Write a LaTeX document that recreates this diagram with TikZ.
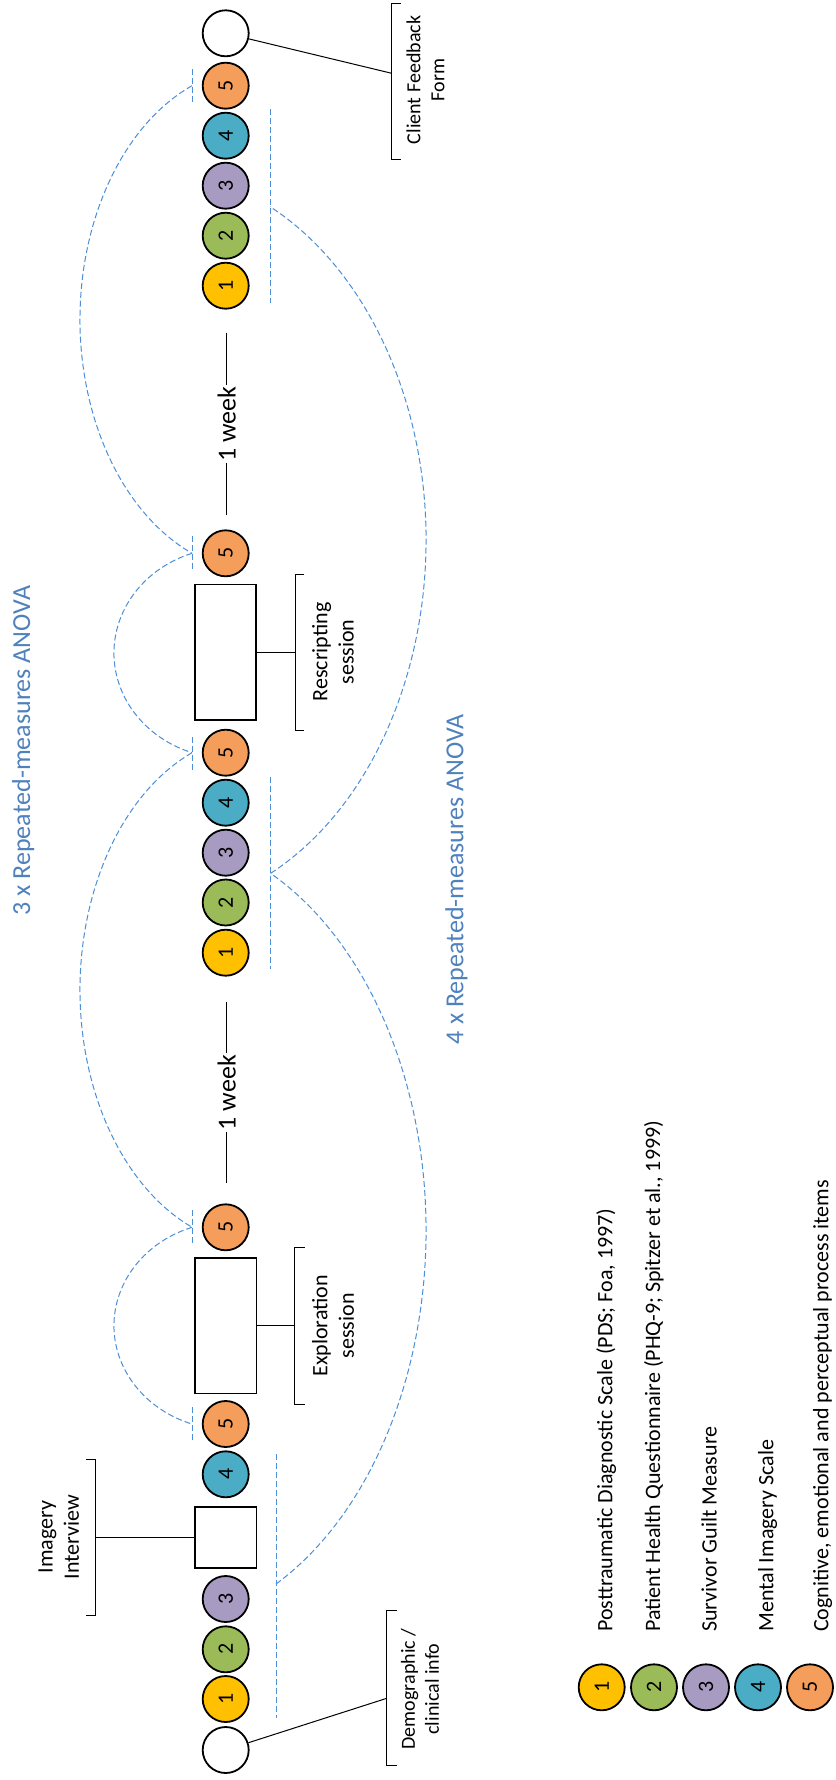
\documentclass[tikz,border=0pt]{standalone}
\usepackage{fontspec}
\setmainfont{Carlito}
\definecolor{mone}{HTML}{FFC000}
\definecolor{mtwo}{HTML}{9BBB59}
\definecolor{mthree}{HTML}{A89BC1}
\definecolor{mfour}{HTML}{4BACC6}
\definecolor{mfive}{HTML}{F59D5A}
\definecolor{anovablue}{HTML}{4F81BD}
\definecolor{linkblue}{HTML}{4A8FD8}
\begin{document}
\begin{tikzpicture}[x=0.75pt,y=-0.75pt,
  meas/.style={circle,draw=black,line width=1.35pt,minimum size=34.5pt,inner sep=0pt,
    font=\fontsize{16.5}{19.8}\selectfont,rotate=90},
  sessbox/.style={rectangle,draw=black,line width=1.35pt,inner sep=0pt,minimum width=45.9pt},
  thin/.style={draw=black,line width=0.75pt},
  lbl/.style={rotate=90,align=center,inner sep=0pt,font=\fontsize{16.5}{19.8}\selectfont},
  lblsm/.style={rotate=90,align=center,inner sep=0pt,font=\fontsize{15}{18}\selectfont},
  keytext/.style={rotate=90,inner sep=0pt,anchor=base west,font=\fontsize{16.5}{19.8}\selectfont},
  weeklbl/.style={rotate=90,inner sep=1pt,font=\fontsize{19.5}{23.4}\selectfont},
  anova/.style={rotate=90,inner sep=0pt,anchor=base,text=anovablue,font=\fontsize{19.5}{23.4}\selectfont},
  link/.style={draw=linkblue,line width=0.75pt,dash pattern=on 4.5pt off 2.25pt},
  weekline/.style={draw=black,line width=1pt}]

\fill[white] (0,0) rectangle (835,1780);
\useasboundingbox (0,0) rectangle (835,1780);

% ---------- baseline session (bottom) ----------
\node[meas,fill=white] (demo) at (225.7,1750) {};
\node[meas,fill=mone]   (a1) at (225.7,1699) {1};
\node[meas,fill=mtwo]   (a2) at (225.7,1649.3) {2};
\node[meas,fill=mthree] (a3) at (225.7,1599) {3};
\node[sessbox,minimum height=45.9pt] (imgbox) at (225.8,1537.2) {};
\node[meas,fill=mfour]  (a4) at (225.7,1474.3) {4};
\node[meas,fill=mfive]  (a5) at (225.7,1424) {5};
\node[sessbox,minimum height=101.85pt] (expbox) at (225.8,1325.5) {};
\node[meas,fill=mfive]  (a6) at (225.7,1227.3) {5};

% ---------- second session ----------
\node[meas,fill=mone]   (b1) at (225.7,952.7) {1};
\node[meas,fill=mtwo]   (b2) at (225.7,902.5) {2};
\node[meas,fill=mthree] (b3) at (225.7,852.7) {3};
\node[meas,fill=mfour]  (b4) at (225.7,802.7) {4};
\node[meas,fill=mfive]  (b5) at (225.7,752.7) {5};
\node[sessbox,minimum height=101.6pt] (resbox) at (225.5,652.3) {};
\node[meas,fill=mfive]  (b6) at (225.7,553.3) {5};

% ---------- follow-up ----------
\node[meas,fill=mone]   (c1) at (225.7,285.7) {1};
\node[meas,fill=mtwo]   (c2) at (225.7,235.7) {2};
\node[meas,fill=mthree] (c3) at (225.7,185.7) {3};
\node[meas,fill=mfour]  (c4) at (225.7,135.7) {4};
\node[meas,fill=mfive]  (c5) at (225.7,85.7) {5};
\node[meas,fill=white]  (cff) at (225.7,33.3) {};

% ---------- one-week gaps ----------
\node[weeklbl] (wk1) at (226.7,1092.5) {1 week};
\coordinate (wk1a) at (226.7,1001.7);
\coordinate (wk1b) at (226.7,1183.3);
\draw[weekline] (wk1a) -- (wk1);
\draw[weekline] (wk1) -- (wk1b);
\node[weeklbl] (wk2) at (226.7,424) {1 week};
\coordinate (wk2a) at (226.7,332.7);
\coordinate (wk2b) at (226.7,515);
\draw[weekline] (wk2a) -- (wk2);
\draw[weekline] (wk2) -- (wk2b);

% ---------- brackets and their labels ----------
% Imagery interview
\coordinate (ibt) at (95.7,1459.3); \coordinate (ibb) at (95.7,1615);
\coordinate (ibm) at (95.7,1537.2);
\draw[thin] (86,1459.3) -- (ibt) -- (ibb) -- (86,1615);
\draw[thin] (imgbox.west) -- (ibm);
\node[lbl] (imglbl) at (58.8,1537.2) {Imagery\\Interview};
% Exploration session
\coordinate (ebt) at (294.7,1247.7); \coordinate (ebb) at (294.7,1404);
\coordinate (ebm) at (294.7,1325.5);
\draw[thin] (304.7,1247.7) -- (ebt) -- (ebb) -- (304.7,1404);
\draw[thin] (expbox.east) -- (ebm);
\node[lbl] (explbl) at (333,1325.8) {Exploration\\session};
% Rescripting session
\coordinate (rbt) at (295,574.3); \coordinate (rbb) at (295,730);
\coordinate (rbm) at (295,652.3);
\draw[thin] (304.3,574.3) -- (rbt) -- (rbb) -- (304.3,730);
\draw[thin] (resbox.east) -- (rbm);
\node[lbl] (reslbl) at (333,652) {Rescripting\\session};
% Demographic / clinical info
\coordinate (dbt) at (386.7,1610); \coordinate (dbb) at (386.7,1765);
\coordinate (dbm) at (386.7,1698.3);
\draw[thin] (396.7,1610) -- (dbt) -- (dbb) -- (396.7,1765);
\draw[thin] (demo) -- (dbm);
\node[lblsm] (demlbl) at (420,1689) {Demographic /\\clinical info};
% Client feedback form
\coordinate (fbt) at (391.7,4); \coordinate (fbb) at (391.7,159.3);
\coordinate (fbm) at (391.7,73.3);
\draw[thin] (400.7,4) -- (fbt) -- (fbb) -- (400.7,159.3);
\draw[thin] (cff) -- (fbm);
\node[lblsm] (cfflbl) at (425.5,80) {Client Feedback\\Form};

% ---------- repeated-measures links ----------
% short marks beside the process-item circles
\draw[link] (192,1407) -- (192,1443);
\draw[link] (192,1210) -- (192,1245.7);
\draw[link] (192,736.7) -- (192,771.7);
\draw[link] (192,536) -- (192,571.7);
\draw[link] (192,69.3) -- (192,105);
% long marks beside the questionnaire blocks
\draw[link] (276,1454) -- (276,1718);
\draw[link] (270.7,776.7) -- (270.7,969.3);
\draw[link] (270,109.3) -- (270,302.7);
% three-point process comparisons (left)
\coordinate (pA) at (192,1227.3);
\coordinate (pB) at (192,752.7);
\coordinate (pC) at (192,553.3);
\coordinate (pD) at (192,85.7);
\draw[link] (pA) arc[start angle=109.1,end angle=250.9,x radius=87pt,y radius=78.08pt];
\draw[link] (pB) arc[start angle=112.2,end angle=247.8,x radius=135pt,y radius=192.2pt];
\draw[link] (pC) arc[start angle=109.1,end angle=250.9,x radius=87pt,y radius=79.13pt];
\draw[link] (pD) arc[start angle=112.2,end angle=247.8,x radius=135pt,y radius=189.4pt];
% questionnaire comparisons (right)
\coordinate (qA) at (276,1584);
\coordinate (qB) at (270.7,873.3);
\draw[link] (qA) arc[start angle=-62.84,end angle=64.07,x radius=207pt,y radius=297.9pt];
\draw[link] (qB) arc[start angle=-64.07,end angle=64.23,x radius=207pt,y radius=277.8pt];

\node[anova] (an3) at (30,750.7) {3 x Repeated-measures ANOVA};
\node[anova] (an4) at (463.3,879.2) {4 x Repeated-measures ANOVA};

% ---------- key ----------
\node[meas,fill=mone]   (k1) at (601.7,1687.3) {1};
\node[meas,fill=mtwo]   (k2) at (654,1687.3) {2};
\node[meas,fill=mthree] (k3) at (706,1687.3) {3};
\node[meas,fill=mfour]  (k4) at (758,1687.3) {4};
\node[meas,fill=mfive]  (k5) at (810,1687.3) {5};
\node[keytext] (t1) at (612.3,1632) {Posttraumatic Diagnostic Scale (PDS; Foa, 1997)};
\node[keytext] (t2) at (660,1632) {Patient Health Questionnaire (PHQ-9; Spitzer et al., 1999)};
\node[keytext] (t3) at (716.7,1632) {Survivor Guilt Measure};
\node[keytext] (t4) at (773.3,1632) {Mental Imagery Scale};
\node[keytext] (t5) at (828.3,1632) {Cognitive, emotional and perceptual process items};
\end{tikzpicture}
\end{document}
